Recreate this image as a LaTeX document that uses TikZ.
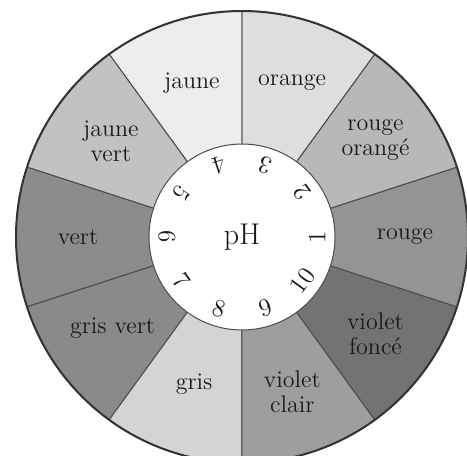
\documentclass[tikz,border=0pt]{standalone}
\usepackage{color}
\usepackage{tikz}

\definecolor{cjaune}{gray}{0.93}
\definecolor{corange}{gray}{0.87}
\definecolor{crougeor}{gray}{0.72}
\definecolor{crouge}{gray}{0.58}
\definecolor{cviofon}{gray}{0.45}
\definecolor{cviocla}{gray}{0.62}
\definecolor{cgris}{gray}{0.83}
\definecolor{cgrisvert}{gray}{0.54}
\definecolor{cvert}{gray}{0.55}
\definecolor{cjaunevert}{gray}{0.76}

\tikzset{
  secteur/.style={draw=black!70,line width=0.5pt},
  nom/.style={align=center,text=black!90,font=\fontsize{12}{12.5}\selectfont},
  chiffre/.style={text=black!90,inner sep=1pt,font=\fontsize{12.5}{13}\selectfont}
}

\begin{document}
\begin{tikzpicture}[x=0.5pt,y=0.5pt]
\useasboundingbox (-242,-219) rectangle (225,237);
\clip (-242,-219) rectangle (225,237);
\begin{scope}[secteur]
    % couleurs du cercle
    \filldraw[fill=corange] (0,0) -- (54:226) arc[start angle=54,end angle=90,radius=226] -- cycle;
    \filldraw[fill=cjaune] (0,0) -- (90:226) arc[start angle=90,end angle=126,radius=226] -- cycle;
    \filldraw[fill=cjaunevert] (0,0) -- (126:226) arc[start angle=126,end angle=162,radius=226] -- cycle;
    \filldraw[fill=cvert] (0,0) -- (162:226) arc[start angle=162,end angle=198,radius=226] -- cycle;
    \filldraw[fill=cgrisvert] (0,0) -- (198:226) arc[start angle=198,end angle=234,radius=226] -- cycle;
    \filldraw[fill=cgris] (0,0) -- (234:226) arc[start angle=234,end angle=270,radius=226] -- cycle;
    \filldraw[fill=cviocla] (0,0) -- (270:226) arc[start angle=270,end angle=306,radius=226] -- cycle;
    \filldraw[fill=cviofon] (0,0) -- (306:226) arc[start angle=306,end angle=342,radius=226] -- cycle;
    \filldraw[fill=crouge] (0,0) -- (342:226) arc[start angle=342,end angle=378,radius=226] -- cycle;
    \filldraw[fill=crougeor] (0,0) -- (18:226) arc[start angle=18,end angle=54,radius=226] -- cycle;
\end{scope}
    \draw[black!80,line width=1pt] (0,0) circle[radius=226];
    \filldraw[fill=white,draw=black!70,line width=0.5pt] (0,0) circle[radius=93];

    \node[nom] (orange) at (72:162) {orange};
    \node[nom] (jaune) at (108:162) {jaune};
    \node[nom] (jaunevert) at (144:162) {jaune\\vert};
    \node[nom] (vert) at (180:164) {vert};
    \node[nom] (grisvert) at (215:158) {gris vert};
    \node[nom] (gris) at (252:155) {gris};
    \node[nom] (violetclair) at (288:163) {violet\\clair};
    \node[nom] (violetfonce) at (324:165) {violet\\fonc\'e};
    \node[nom] (rouge) at (0:163) {rouge};
    \node[nom] (rougeorange) at (36:165) {rouge\\orang\'e};

    \node[chiffre,font=\fontsize{15}{16}\selectfont] (ph) at (0,0) {pH};
    \node[chiffre,rotate=90] (un) at (0:75) {1};
    \node[chiffre,rotate=126] (deux) at (36:75) {2};
    \node[chiffre,rotate=162] (trois) at (72:75) {3};
    \node[chiffre,rotate=198] (quatre) at (108:75) {4};
    \node[chiffre,rotate=234] (cinq) at (144:75) {5};
    \node[chiffre,rotate=270] (six) at (180:75) {6};
    \node[chiffre,rotate=306] (sept) at (216:75) {7};
    \node[chiffre,rotate=342] (huit) at (252:75) {8};
    \node[chiffre,rotate=18] (neuf) at (288:75) {9};
    \node[chiffre,rotate=54] (dix) at (324:75) {10};
\end{tikzpicture}
\end{document}
